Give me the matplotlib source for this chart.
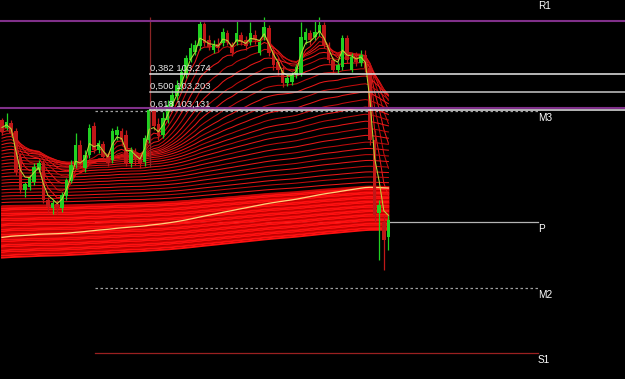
import numpy as np
import matplotlib.pyplot as plt

# candles (price), one per bar
opens = [103.092, 103.060, 103.080, 103.048, 102.940, 102.812, 102.824, 102.844, 102.892, 102.920,
         102.772, 102.740, 102.756, 102.740, 102.788, 102.848, 102.912, 102.992, 102.900, 102.952,
         103.068, 102.972, 102.996, 102.948, 102.932, 103.032, 103.048, 103.032, 102.920, 102.964,
         102.940, 102.924, 103.012, 103.132, 103.076, 103.032, 103.092, 103.148, 103.188, 103.228,
         103.272, 103.332, 103.364, 103.388, 103.476, 103.412, 103.372, 103.396, 103.400, 103.440,
         103.392, 103.404, 103.432, 103.412, 103.404, 103.432, 103.360, 103.424, 103.460, 103.372,
         103.324, 103.292, 103.240, 103.244, 103.272, 103.280, 103.412, 103.440, 103.424, 103.440,
         103.472, 103.392, 103.332, 103.292, 103.304, 103.420, 103.292, 103.344, 103.320, 103.352,
         103.300, 103.012, 102.720, 102.684, 102.624]
highs = [103.100, 103.120, 103.092, 103.060, 102.960, 102.844, 102.872, 102.920, 102.932, 102.932,
         102.784, 102.772, 102.772, 102.804, 102.860, 102.932, 103.040, 103.012, 102.972, 103.076,
         103.084, 103.012, 103.008, 102.960, 103.060, 103.068, 103.060, 103.052, 102.984, 102.980,
         102.952, 103.032, 103.140, 103.148, 103.100, 103.124, 103.172, 103.212, 103.252, 103.300,
         103.352, 103.400, 103.412, 103.492, 103.484, 103.432, 103.412, 103.420, 103.460, 103.452,
         103.404, 103.492, 103.444, 103.428, 103.484, 103.452, 103.412, 103.504, 103.472, 103.384,
         103.344, 103.308, 103.272, 103.284, 103.316, 103.484, 103.460, 103.452, 103.492, 103.504,
         103.484, 103.404, 103.344, 103.324, 103.432, 103.432, 103.360, 103.364, 103.372, 103.372,
         103.312, 103.052, 102.772, 102.712, 102.712]
lows = [103.032, 103.052, 103.028, 102.872, 102.800, 102.784, 102.812, 102.832, 102.884, 102.760,
        102.724, 102.716, 102.716, 102.724, 102.772, 102.840, 102.900, 102.900, 102.884, 102.940,
        102.960, 102.960, 102.932, 102.908, 102.920, 103.012, 102.992, 102.908, 102.904, 102.912,
        102.900, 102.908, 103.000, 103.052, 103.012, 103.020, 103.080, 103.140, 103.172, 103.212,
        103.260, 103.324, 103.352, 103.372, 103.388, 103.372, 103.360, 103.364, 103.388, 103.392,
        103.348, 103.392, 103.392, 103.372, 103.392, 103.396, 103.352, 103.412, 103.348, 103.292,
        103.272, 103.224, 103.228, 103.232, 103.260, 103.268, 103.396, 103.392, 103.412, 103.428,
        103.380, 103.320, 103.280, 103.280, 103.292, 103.320, 103.284, 103.308, 103.308, 103.284,
        102.992, 102.684, 102.532, 102.492, 102.572]
closes = [103.044, 103.084, 103.040, 102.884, 102.812, 102.836, 102.860, 102.904, 102.920, 102.772,
          102.744, 102.760, 102.740, 102.792, 102.852, 102.912, 102.992, 102.912, 102.952, 103.060,
          102.972, 103.000, 102.944, 102.920, 103.048, 103.052, 103.012, 102.920, 102.972, 102.932,
          102.920, 103.020, 103.132, 103.068, 103.028, 103.100, 103.152, 103.192, 103.232, 103.284,
          103.340, 103.380, 103.392, 103.476, 103.400, 103.384, 103.392, 103.380, 103.444, 103.404,
          103.360, 103.440, 103.404, 103.388, 103.440, 103.412, 103.404, 103.464, 103.360, 103.312,
          103.292, 103.240, 103.260, 103.272, 103.304, 103.424, 103.444, 103.412, 103.444, 103.472,
          103.392, 103.332, 103.292, 103.312, 103.420, 103.332, 103.344, 103.324, 103.352, 103.300,
          103.012, 102.712, 102.752, 102.612, 102.692]

# moving average ribbon: periods and their values at the first bar
fan_periods = [5, 8, 12, 17, 23, 30, 38, 48, 60, 74, 90, 108, 128, 150, 175, 205, 240, 280, 325,
               375, 430, 495, 570, 650, 745, 850]
fan_starts = [103.068, 103.055, 103.042, 103.030, 103.017, 103.004, 102.991, 102.978, 102.966, 102.953,
              102.940, 102.927, 102.914, 102.902, 102.889, 102.876, 102.863, 102.850, 102.838, 102.825,
              102.812, 102.799, 102.786, 102.774, 102.761, 102.748]
band_periods = [780, 782, 784, 786, 788, 790, 792, 794, 796, 798, 800, 802, 804, 806, 808,
                810, 812, 814, 816, 818, 820, 822, 824, 826, 828, 830, 832, 834, 836, 838]
band_starts = [102.744, 102.737, 102.730, 102.723, 102.716, 102.709, 102.702, 102.695, 102.688, 102.681,
               102.674, 102.667, 102.660, 102.653, 102.646, 102.639, 102.632, 102.625, 102.618, 102.611,
               102.604, 102.597, 102.590, 102.583, 102.576, 102.569, 102.562, 102.555, 102.548, 102.540]
fast_period, fast_start = 3, 103.080
yellow_period, yellow_start = 370, 102.620

pivot_names = ['R1', 'M3', 'P', 'M2', 'S1']
pivot_levels = [103.578, 103.128, 102.684, 102.420, 102.160]
fib_names = ['0,382', '0,500', '0,618']
fib_levels = [103.274, 103.203, 103.131]
fib_high, fib_low = 103.504, 102.902
purple_levels = [103.488, 103.140]


def ema(values, period, start):
    k = 2.0 / (period + 1)
    level = start
    out = []
    for v in values:
        level += k * (v - level)
        out.append(level)
    return np.array(out)


fig = plt.figure(figsize=(6.25, 3.79), dpi=100, facecolor='black')
ax = fig.add_axes([0, 0, 1, 1])
ax.set_facecolor('black')
ax.set_xlim(-0.435, 135.43)
ax.set_ylim(102.056, 103.572)
ax.axis('off')

x = np.arange(len(closes))

# pivot lines (under the ribbon)
pivot_styles = {'R1': ('#b4b4b4', '-'), 'M3': ('#a0a0a0', (0, (2, 2))), 'P': ('#b4b4b4', '-'),
                'M2': ('#a0a0a0', (0, (2, 2))), 'S1': ('#9a2020', '-')}
for name, lvl in zip(pivot_names, pivot_levels):
    col, ls = pivot_styles[name]
    ax.axhline(lvl, xmin=95 / 625, xmax=538 / 625, color=col, lw=0.9, ls=ls, zorder=1)
    ax.annotate(name, (538 / 625, lvl), xycoords=ax.get_yaxis_transform(),
                xytext=(0, -1.5), textcoords='offset points', va='top', ha='left',
                color='white', fontsize=7.2, family='Liberation Sans', zorder=6,
                annotation_clip=False)

# ribbon
for i, (p, s) in enumerate(zip(band_periods, band_starts)):
    ax.plot(x, ema(closes, p, s), color='#ff1010' if i % 3 else '#c80000', lw=1.35, zorder=2)
for i, (p, s) in enumerate(zip(fan_periods, fan_starts)):
    ax.plot(x, ema(closes, p, s), color='#e81818' if i % 2 == 0 else '#c00c0c', lw=0.75, zorder=2)
ax.plot(x, ema(closes, yellow_period, yellow_start), color='#ffd27a', lw=0.9, zorder=2.5)

# candles
for i in x:
    o, h, l, c = opens[i], highs[i], lows[i], closes[i]
    col = '#22d022' if c >= o else '#c01818'
    ax.vlines(i, l, h, color=col, lw=0.9, zorder=3)
    ax.bar(i, max(abs(c - o), 0.004), bottom=min(o, c), width=0.75, color=col, lw=0, zorder=3)

ax.plot(x, ema(closes, fast_period, fast_start), color='#b8d838', lw=0.75, zorder=4)

# fibo and purple levels
ax.vlines(148.0 / 4.6, fib_low, fib_high, color='#8b2525', lw=0.9, zorder=4)
fib_colors = ['#e8e8e8', '#c8c8c8', '#e8e8e8']
for name, lvl, col in zip(fib_names, fib_levels, fib_colors):
    ax.axhline(lvl, xmin=150 / 625, xmax=1, color=col, lw=1.1, zorder=5)
    ax.annotate(f'{name} {lvl:.3f}'.replace('.', ','), (150.5 / 625, lvl),
                xycoords=ax.get_yaxis_transform(), xytext=(0, 1.2), textcoords='offset points',
                va='bottom', ha='left', color='#e8e8e8', fontsize=6.8,
                family='Liberation Sans', zorder=6)
for lvl in purple_levels:
    ax.axhline(lvl, color='#80308a', lw=1.5, zorder=5)

fig.savefig('out.png', dpi=100, facecolor='black')
